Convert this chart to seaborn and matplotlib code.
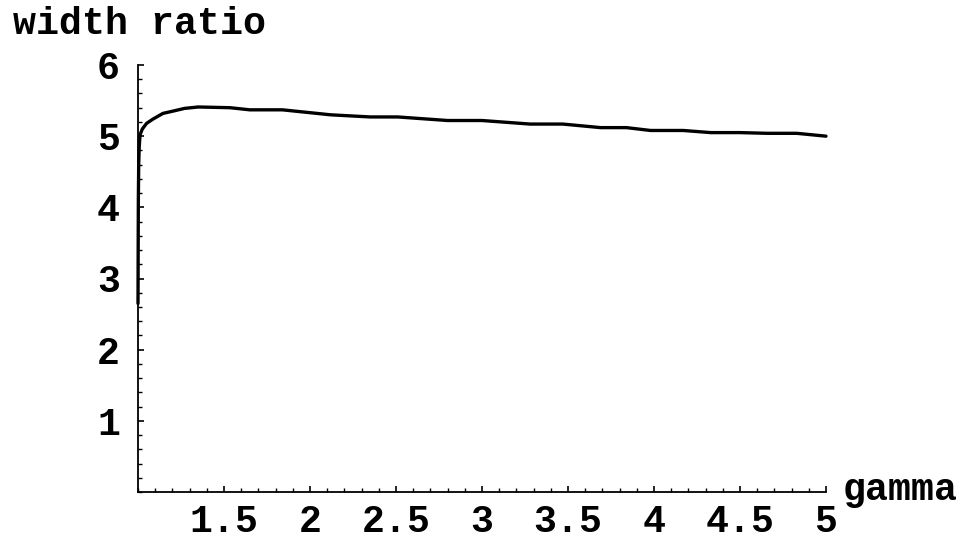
import matplotlib
matplotlib.use("Agg")
import matplotlib.pyplot as plt
import seaborn as sns
import pandas as pd
from matplotlib.ticker import MultipleLocator, FixedLocator

# width ratio as a function of gamma
gamma = [1.000, 1.001, 1.002, 1.004, 1.007, 1.012, 1.025, 1.050, 1.087, 1.145,
         1.200, 1.270, 1.350, 1.535, 1.650, 1.840, 2.120, 2.350, 2.510, 2.800,
         3.000, 3.280, 3.470, 3.690, 3.840, 3.980, 4.170, 4.330, 4.500, 4.660,
         4.830, 5.000]
width_ratio = [2.65, 3.40, 4.10, 4.60, 4.85, 5.02, 5.10, 5.18, 5.24, 5.32,
               5.35, 5.39, 5.41, 5.40, 5.37, 5.37, 5.30, 5.27, 5.27, 5.22,
               5.22, 5.17, 5.17, 5.12, 5.12, 5.08, 5.08, 5.05, 5.05, 5.04,
               5.04, 5.00]

x_ticks = [1.5, 2, 2.5, 3, 3.5, 4, 4.5, 5]
x_tick_labels = ["1.5", "2", "2.5", "3", "3.5", "4", "4.5", "5"]
y_ticks = [1, 2, 3, 4, 5, 6]
y_tick_labels = ["1", "2", "3", "4", "5", "6"]

df = pd.DataFrame({"gamma": gamma, "width ratio": width_ratio})

sns.set_style("ticks")
plt.rcParams["font.family"] = ["Liberation Mono", "DejaVu Sans Mono"]
plt.rcParams["font.weight"] = "bold"

fig = plt.figure(figsize=(9.63, 5.4), dpi=100)
ax = fig.add_axes([138 / 963, 1 - 492 / 540, (826 - 138) / 963, (492 - 65) / 540])

sns.lineplot(data=df, x="gamma", y="width ratio", ax=ax, color="black",
             linewidth=2.4, estimator=None, sort=False)
for line in ax.lines:
    line.set_clip_on(False)
    line.set_solid_joinstyle("round")
    line.set_solid_capstyle("round")

ax.set_xlim(1, 5)
ax.set_ylim(0, 6)
ax.set_xlabel("")
ax.set_ylabel("")

ax.xaxis.set_major_locator(FixedLocator(x_ticks))
ax.set_xticklabels(x_tick_labels)
ax.xaxis.set_minor_locator(MultipleLocator(0.1))
ax.yaxis.set_major_locator(FixedLocator(y_ticks))
ax.set_yticklabels(y_tick_labels)
ax.yaxis.set_minor_locator(MultipleLocator(0.2))

for side in ("top", "right"):
    ax.spines[side].set_visible(False)
for side in ("left", "bottom"):
    ax.spines[side].set_linewidth(1.3)
    ax.spines[side].set_color("black")

ax.tick_params(which="major", direction="in", length=4.5, width=1.2,
               colors="black", labelsize=27.5)
ax.tick_params(axis="x", which="major", pad=9)
ax.tick_params(axis="y", which="major", pad=13)
ax.tick_params(which="minor", direction="in", length=3.0, width=1.0,
               colors="black")
for lab in ax.get_xticklabels() + ax.get_yticklabels():
    lab.set_fontweight("bold")

fig.text(13 / 963, 1 - 24 / 540, "width ratio", fontsize=27.5, fontweight="bold",
         ha="left", va="center", color="black")
fig.text(843 / 963, 1 - 490 / 540, "gamma", fontsize=27.5, fontweight="bold",
         ha="left", va="center", color="black")

fig.savefig("out.png", dpi=100, facecolor="white")
